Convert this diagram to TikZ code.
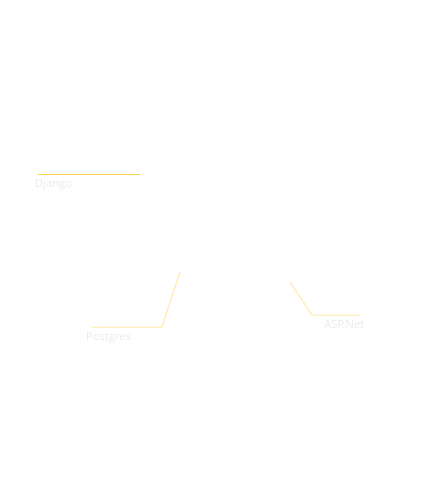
\documentclass[tikz,border=0pt]{standalone}
\usepackage{fontspec}
\setmainfont{Open Sans}
\definecolor{lblgray}{HTML}{EBEBEB}
\definecolor{goldline}{HTML}{FFD54F}
\definecolor{paleline}{HTML}{FFE9A6}
\begin{document}
\begin{tikzpicture}[x=1pt,y=-1pt,
  lbl/.style={font=\fontsize{11.2}{13}\selectfont, text=lblgray, inner sep=0pt, anchor=base west},
  leader/.style={line width=1pt}]
\useasboundingbox[fill=white] (0,0) rectangle (424,485);
% Django
\coordinate (dj1) at (140,174);
\coordinate (dj2) at (38,174);
\draw[leader, goldline] (dj1) -- (dj2);
\node[lbl] (django) at (35,187) {Django};
% Postgres
\coordinate (pg1) at (180,272);
\coordinate (pg2) at (162,327);
\coordinate (pg3) at (92,327);
\draw[leader, paleline] (pg1) -- (pg2) -- (pg3);
\node[lbl] (postgres) at (86,340) {Postgres};
% ASP.Net
\coordinate (as1) at (290,282);
\coordinate (as2) at (312,315);
\coordinate (as3) at (360,315);
\draw[leader, paleline] (as1) -- (as2) -- (as3);
\node[lbl] (aspnet) at (324,328) {ASP.Net};
\end{tikzpicture}
\end{document}
